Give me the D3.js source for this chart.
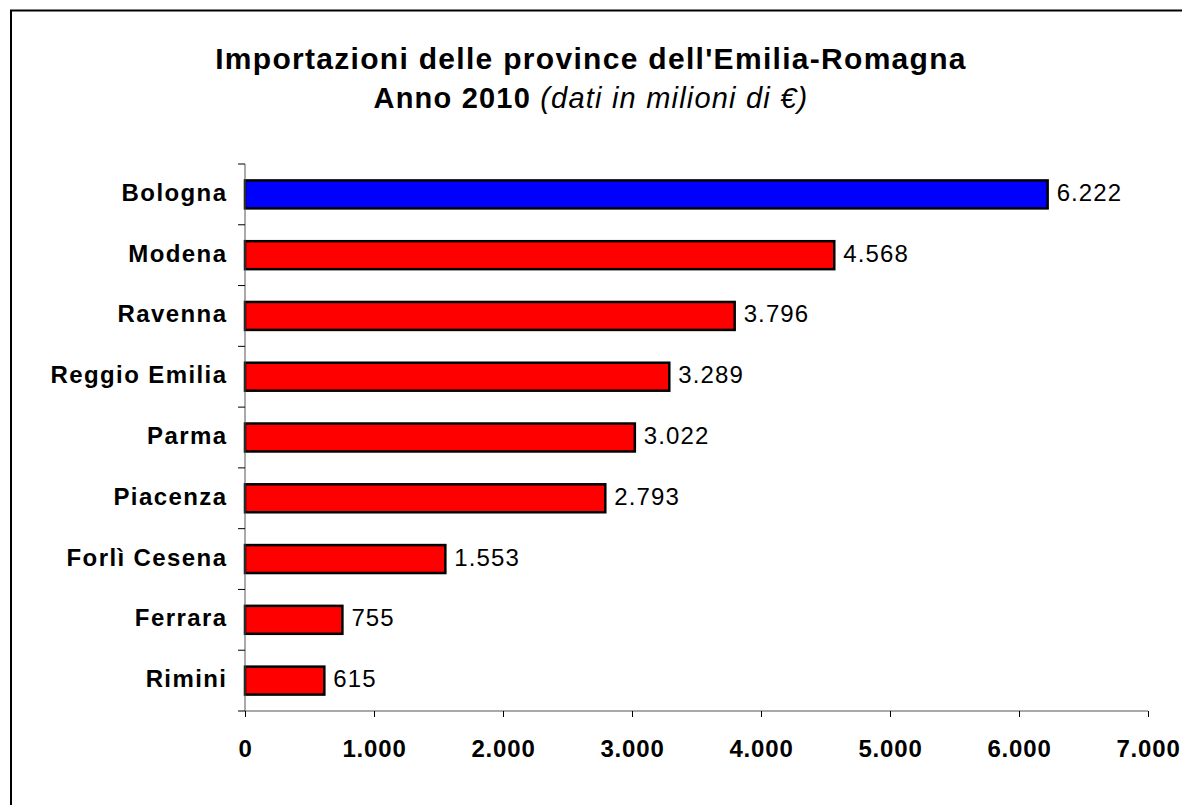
<!DOCTYPE html>
<html>
<head>
<meta charset="utf-8">
<script src="https://cdn.jsdelivr.net/npm/d3@7"></script>
<style>
  html, body { margin: 0; padding: 0; background: #fff; }
  svg { display: block; font-family: "Liberation Sans", Arial, sans-serif; }
</style>
</head>
<body>
<svg id="chart" width="1182" height="805"></svg>
<script>
const categories = ["Bologna", "Modena", "Ravenna", "Reggio Emilia", "Parma ", "Piacenza", "Forlì Cesena", "Ferrara", "Rimini"];
const values = [6222, 4568, 3796, 3289, 3022, 2793, 1553, 755, 615];
const barColors = ["#0000FF", "#FF0000", "#FF0000", "#FF0000", "#FF0000", "#FF0000", "#FF0000", "#FF0000", "#FF0000"];
const xTicks = [0, 1000, 2000, 3000, 4000, 5000, 6000, 7000];
const titleLine1 = "Importazioni delle province dell'Emilia-Romagna";
const titleLine2Bold = "Anno 2010 ";
const titleLine2Italic = "(dati in milioni di €)";

(function () {
const svg = d3.select("#chart");
const W = 1182, H = 805;
const fmt = v => d3.format(",")(v).replace(/,/g, ".");

// outer frame
svg.append("rect").attr("x", 11).attr("y", 10.5).attr("width", W + 10).attr("height", H + 10)
  .attr("fill", "#fff").attr("stroke", "#000").attr("stroke-width", 2);

const mLeft = 245, mRight = 1148, mTop = 164, mBottom = 711;

const x = d3.scaleLinear().domain([0, 7000]).range([mLeft, mRight]);
const y = d3.scaleBand().domain(categories).range([mTop, mBottom]).paddingInner(0.54).paddingOuter(0.27);

// title
svg.append("text").attr("x", 591).attr("y", 69).attr("text-anchor", "middle")
  .attr("font-size", 30).attr("font-weight", "bold").attr("letter-spacing", 1.3).text(titleLine1);
const t2 = svg.append("text").attr("x", 591).attr("y", 108).attr("text-anchor", "middle")
  .attr("font-size", 29).attr("letter-spacing", 1.2);
t2.append("tspan").attr("font-weight", "bold").text(titleLine2Bold);
t2.append("tspan").attr("font-style", "italic").text(titleLine2Italic);

// bars
svg.append("g").selectAll("rect").data(categories).join("rect")
  .attr("x", x(0))
  .attr("y", d => y(d))
  .attr("width", (d, i) => x(values[i]) - x(0))
  .attr("height", y.bandwidth())
  .attr("fill", (d, i) => barColors[i])
  .attr("stroke", "#000").attr("stroke-width", 2.5);

// value labels
svg.append("g").selectAll("text").data(categories).join("text")
  .attr("x", (d, i) => x(values[i]) + 9)
  .attr("y", d => y(d) + y.bandwidth() / 2 + 6.5)
  .attr("font-size", 24).attr("letter-spacing", 1.1)
  .text((d, i) => fmt(values[i]));

// x axis
const xAxis = d3.axisBottom(x).tickValues(xTicks).tickSize(6).tickFormat(fmt);
const gx = svg.append("g").attr("transform", `translate(0,${mBottom})`).call(xAxis);
gx.select(".domain").attr("stroke", "#555").attr("d", `M${mLeft},0H${mRight}`);
gx.selectAll(".tick line").attr("stroke", "#000");
gx.selectAll(".tick text").attr("font-size", 24).attr("font-weight", "bold").attr("fill", "#000")
  .attr("font-family", "Liberation Sans, Arial, sans-serif").attr("letter-spacing", 0.8)
  .attr("y", 46).attr("dy", null);

// y axis
const yTickScale = d3.scaleLinear().domain([0, categories.length]).range([mTop, mBottom]);
const gy = svg.append("g");
gy.append("line").attr("x1", mLeft).attr("x2", mLeft).attr("y1", mTop).attr("y2", mBottom).attr("stroke", "#555");
gy.selectAll("line.t").data(d3.range(categories.length + 1)).join("line").attr("class", "t")
  .attr("x1", mLeft - 7).attr("x2", mLeft).attr("y1", d => yTickScale(d)).attr("y2", d => yTickScale(d))
  .attr("stroke", "#000");
gy.selectAll("text").data(categories).join("text")
  .attr("x", 227.4)
  .attr("y", d => y(d) + y.bandwidth() / 2 + 6.5)
  .attr("text-anchor", "end")
  .attr("font-size", 24).attr("font-weight", "bold").attr("letter-spacing", 1.4)
  .text(d => d);
})();
</script>
</body>
</html>
